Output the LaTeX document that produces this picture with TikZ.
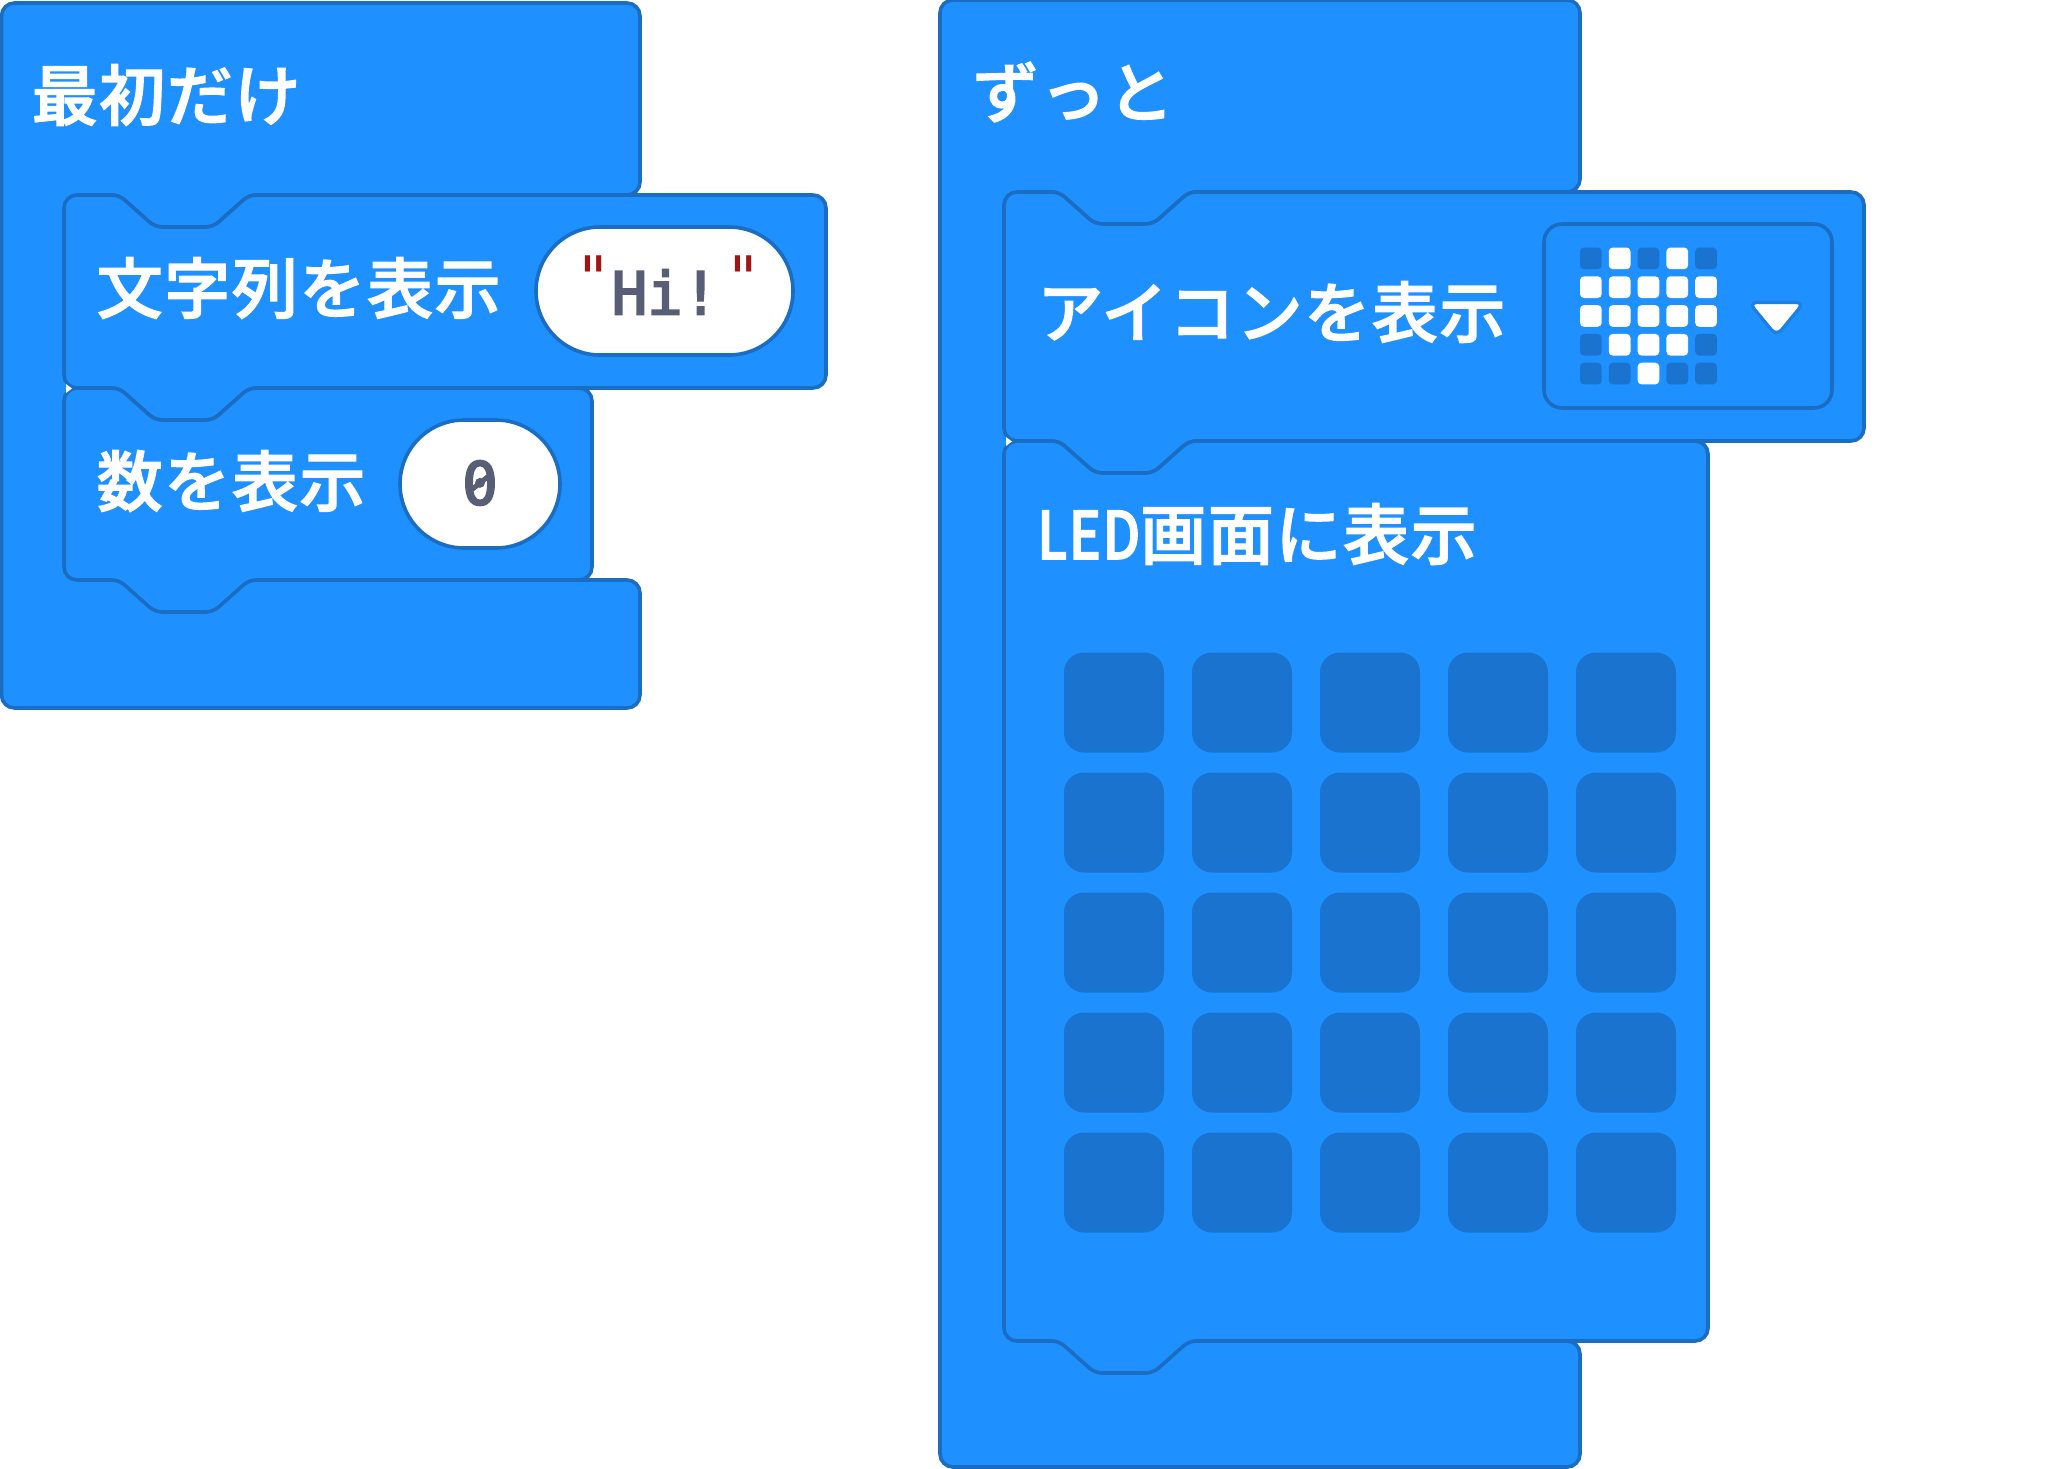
\documentclass[tikz,border=0pt]{standalone}
\usepackage{fontspec}
\setmainfont{Noto Sans CJK JP}
\newfontfamily\blockfont[LetterSpace=2.4,FakeBold=2]{Noto Sans CJK JP Medium}
\newfontfamily\codefont[FakeBold=3.5]{DejaVu Sans Mono}
\newfontfamily\quotefont{DejaVu Sans Mono}
\definecolor{blockblue}{HTML}{1E90FF}
\definecolor{blockedge}{HTML}{1B6DC1}
\definecolor{ledoff}{HTML}{1973CF}
\definecolor{arrowedge}{HTML}{1B80E6}
\definecolor{codegray}{HTML}{575E75}
\definecolor{quotered}{HTML}{A31515}
\tikzset{
  blockline/.style={draw=blockedge,fill=blockblue,line width=3.6pt},
  pillline/.style={draw=blockedge,fill=white,line width=3.6pt},
  blocktext/.style={text=white,anchor=west,inner sep=0pt,font=\fontsize{66pt}{66pt}\selectfont\blockfont},
  codetext/.style={text=codegray,inner sep=0pt,font=\fontsize{59pt}{59pt}\selectfont\codefont},
  quotetext/.style={text=quotered,inner sep=0pt,font=\fontsize{60pt}{60pt}\selectfont\quotefont},
}
% stacked block with notch on top and bottom: left, top, right, bottom
\newcommand{\stackblock}[4]{%
  \draw [blockline,rounded corners=13pt] (#1,#2+40) -- (#1,#2) [rounded corners=7pt] -- (#1+55,#2) -- (#1+91,#2+32) -- (#1+149,#2+32) -- (#1+185,#2) [rounded corners=13pt] -- (#3,#2)
    -- (#3,#4) [rounded corners=7pt] -- (#1+185,#4) -- (#1+149,#4+32) -- (#1+91,#4+32) -- (#1+55,#4) [rounded corners=13pt] -- (#1,#4) -- cycle;%
}
% hat block with a spine, its first inner edge carries a notch: left, top, right, stack left, inner top, inner bottom, bottom
\newcommand{\hatblock}[7]{%
  \draw [blockline,rounded corners=13pt] (#1,#2+40) -- (#1,#2) -- (#3,#2) -- (#3,#5) [rounded corners=7pt] -- (#4+185,#5) -- (#4+149,#5+32) -- (#4+91,#5+32) -- (#4+55,#5) [rounded corners=13pt] -- (#4+8,#5) -- (#4+8,#6) -- (#3,#6) -- (#3,#7) -- (#1,#7) -- cycle;%
}
\begin{document}
\begin{tikzpicture}[x=1pt,y=-1pt]
  \useasboundingbox (0,0) rectangle (2072,1468);

  % Drawing left stack
  \hatblock{1.5}{3}{640}{64}{195}{580}{708}
  \stackblock{64}{195}{826}{388}
  \stackblock{64}{388}{592}{580}
  \fill [white] (66,384) -- (72,388.5) -- (66,393) -- cycle;
  \node [blocktext] (firsthat) at (31.5,95) {最初だけ};
  \node [blocktext] (showstring) at (96.5,288) {文字列を表示};
  \node [blocktext] (shownumber) at (96.5,481) {数を表示};

  % Marking string field
  \draw [pillline,rounded corners=64pt] (536,227) rectangle (793,355);
  \node [quotetext] (quoteleft) at (594,278) {"};
  \node [codetext] (hitext) at (665,292) {Hi!};
  \node [quotetext] (quoteright) at (744,278) {"};

  % Marking number field
  \draw [pillline,rounded corners=64pt] (400,420) rectangle (560,548);
  \node [codetext] (zerotext) at (480,483) {0};
  \draw [codegray,line width=5pt] ([shift={(-10,8)}]zerotext.center) -- ([shift={(10,-8)}]zerotext.center);

  % Drawing right stack
  \hatblock{940}{0}{1580}{1004}{192}{1341}{1467}
  \stackblock{1004}{192}{1864}{441}
  \stackblock{1004}{441}{1708}{1341}
  \fill [white] (1006,437) -- (1012,441.5) -- (1006,446) -- cycle;
  \node [blocktext] (foreverhat) at (972.5,92) {ずっと};
  \node [blocktext] (showicon) at (1037,312) {アイコンを表示};
  \node [blocktext] (showleds) at (1037,534) {\scalebox{0.82}[1]{LED}画面に表示};

  % Drawing icon field
  \draw [draw=blockedge,line width=3.6pt,rounded corners=18pt] (1544,224) rectangle (1832,408);
  \foreach \col/\row/\tone in {
    0/0/ledoff,1/0/white,2/0/ledoff,3/0/white,4/0/ledoff,
    0/1/white,1/1/white,2/1/white,3/1/white,4/1/white,
    0/2/white,1/2/white,2/2/white,3/2/white,4/2/white,
    0/3/ledoff,1/3/white,2/3/white,3/3/white,4/3/ledoff,
    0/4/ledoff,1/4/ledoff,2/4/white,3/4/ledoff,4/4/ledoff}
    \fill [\tone,rounded corners=4pt] (1580+28.8*\col,247.5+28.8*\row) rectangle ++(21.7,21.7);
  \filldraw [draw=arrowedge,fill=white,line width=3.2pt,line join=round,rounded corners=8pt] (1749,302.5) -- (1804,302.5) -- (1776.5,336) -- cycle;

  % Drawing LED matrix
  \foreach \col in {0,...,4}
    \foreach \row in {0,...,4}
      \fill [ledoff,rounded corners=20pt] (1064+128*\col,652.5+120*\row) rectangle ++(100,100);
\end{tikzpicture}
\end{document}
